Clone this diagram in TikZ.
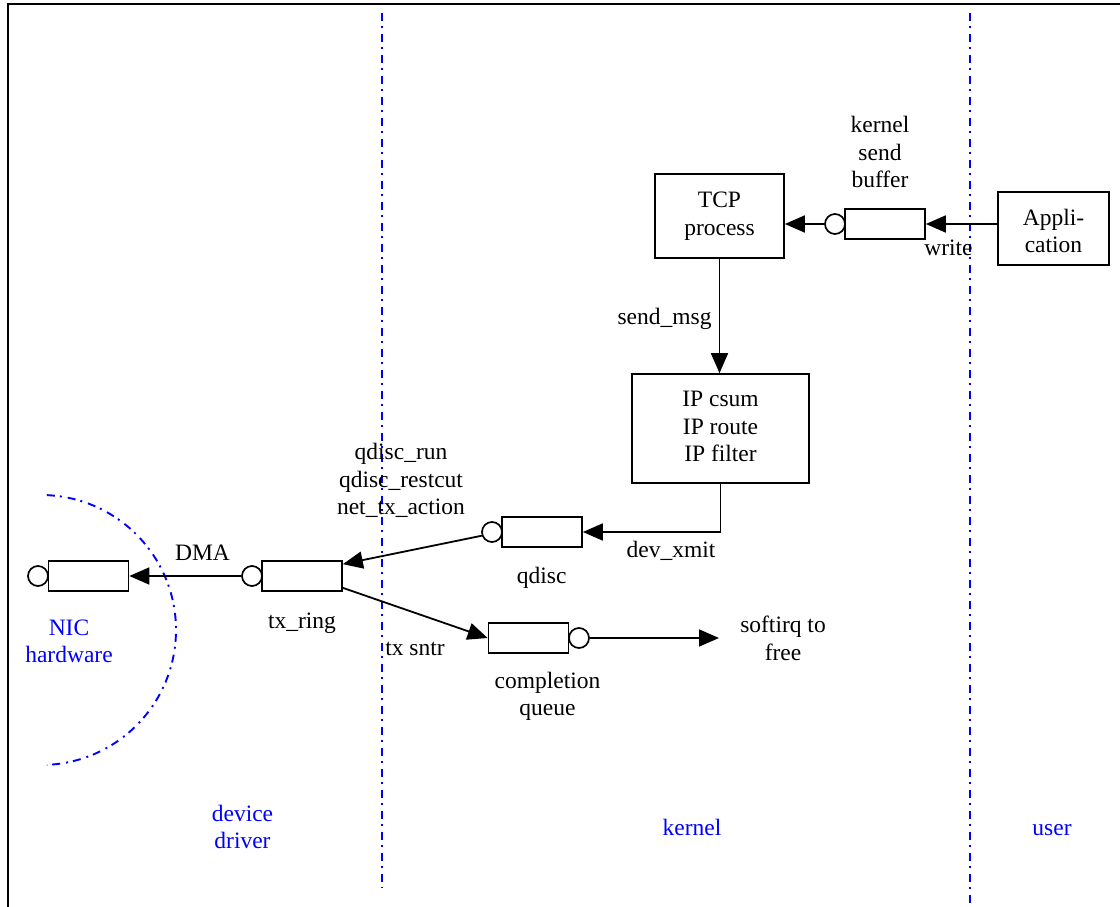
\documentclass[tikz,border=0pt]{standalone}
\usepackage{fontspec}
\setmainfont{Liberation Serif}
\usetikzlibrary{arrows.meta,calc}
\definecolor{zoneblue}{RGB}{0,0,255}
\newcommand{\lblfont}{\fontsize{23.5}{27.7}\selectfont}
\tikzset{
  lbl/.style={inner sep=0pt, align=center, font=\lblfont},
  bluelbl/.style={lbl, text=zoneblue},
  procbox/.style={draw, line width=1.7pt, inner sep=0pt, align=center, font=\lblfont},
  qrect/.style={draw, line width=1.7pt, minimum width=80pt, minimum height=30pt, inner sep=0pt},
  qcirc/.style={draw, circle, line width=1.7pt, minimum size=20pt, inner sep=0pt},
  flow/.style={line width=1.8pt, -{Triangle[length=20pt,width=17pt]}},
  zone/.style={zoneblue, line width=1.9pt, dash pattern=on 8pt off 5pt on 2pt off 6pt},
  frameline/.style={line width=2.2pt}
}
\begin{document}
\begin{tikzpicture}[x=1pt, y=-1pt]
\useasboundingbox (0,0) rectangle (1120,907);

% frame and zones
\draw[frameline] (1120,4) -- (8,4) -- (8,907);
\draw[zone] (382,13) -- (382,888);
\draw[zone] (970,13) -- (970,907);
\draw[zone] (41,630) ++(-87.5:135) arc[start angle=-87.5, end angle=87.5, radius=135];

% process boxes
\node[procbox, minimum width=129pt, minimum height=84pt] (tcp) at (719.5,216) {\strut TCP\\\strut process};
\node[procbox, minimum width=111pt, minimum height=73pt] (app) at (1053.5,228.5) {\rule{0pt}{29.4pt}Appli-\\\strut cation};
\node[procbox, minimum width=177pt, minimum height=109pt] (ip) at (720.5,428.5) {\strut IP csum\\\strut IP route\\\strut IP filter};

% queues
\node[qrect] (kbuf) at (885,224) {};
\node[qcirc] (kbufc) at (835,224) {};
\node[qrect] (qdisc) at (542,532) {};
\node[qcirc] (qdiscc) at (492,532) {};
\node[qrect] (txring) at (302,576) {};
\node[qcirc] (txringc) at (252,576) {};
\node[qrect] (nicq) at (88.5,576) {};
\node[qcirc] (nicqc) at (38,576) {};
\node[qrect] (compq) at (528.5,638) {};
\node[qcirc] (compqc) at (579,638) {};
\coordinate (sfend) at (719,638);

% connectors
\draw[flow] (app.west |- kbuf.east) -- (kbuf.east);
\draw[flow] (kbufc.west) -- (kbufc.west -| tcp.east);
\draw[flow] (tcp.south) -- (tcp.south |- ip.north);
\draw[flow] (ip.south) |- (qdisc.east);
\draw[flow] (qdiscc.200) -- ($(txring.north east)+(0,4)$);
\draw[flow] ($(txring.south east)+(0,-4)$) -- (compq.west);
\draw[flow] (compqc.east) -- (sfend);
\draw[flow] (txringc.west) -- (nicq.east);

% labels
\node[lbl] (ksb) at (880,154.5) {\strut kernel\\\strut send\\\strut buffer};
\node[lbl] (write) at (948.5,249.5) {\strut write};
\node[lbl] (sendmsg) at (664.5,318.5) {\strut send\_msg};
\node[lbl] (devx) at (671,551.5) {\strut dev\_xmit};
\node[lbl] (qdl) at (541.7,577.5) {\strut qdisc};
\node[lbl] (qrun) at (401,481.5) {\strut qdisc\_run\\\strut qdisc\_restcut\\\strut net\_tx\_action};
\node[lbl] (txs) at (415,649.5) {\strut tx sntr};
\node[lbl] (cql) at (547.5,696.5) {\strut completion\\\strut queue};
\node[lbl] (sft) at (783,641) {\strut softirq to\\\strut free};
\node[lbl] (txrl) at (302,622.5) {\strut tx\_ring};
\node[lbl] (dma) at (202.5,554.5) {\strut DMA};
\node[bluelbl] (nic) at (69,643.5) {\strut NIC\\\strut hardware};
\node[bluelbl] (dd) at (242.5,829.5) {\strut device\\\strut driver};
\node[bluelbl] (kz) at (692,829.5) {\strut kernel};
\node[bluelbl] (uz) at (1052,829.5) {\strut user};
\end{tikzpicture}
\end{document}
